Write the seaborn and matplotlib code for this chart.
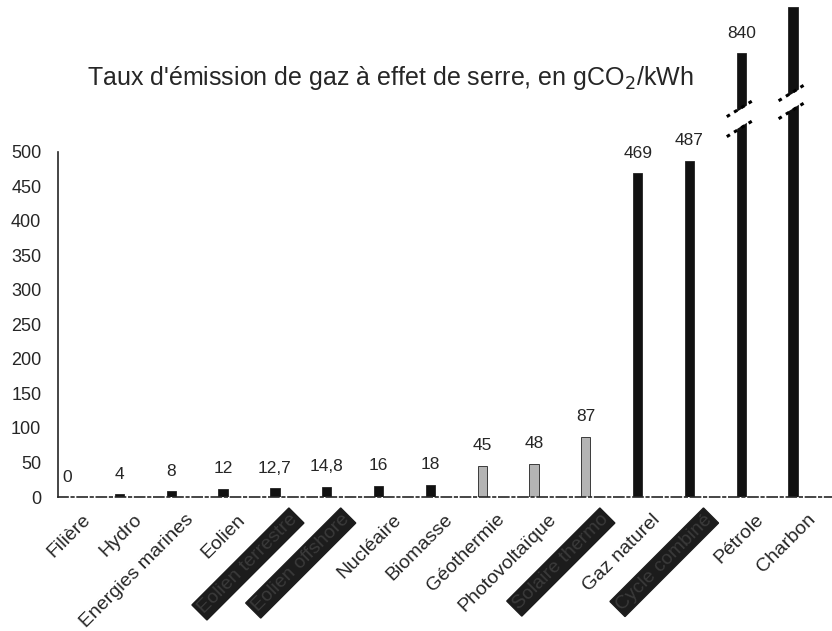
import matplotlib
matplotlib.use('Agg')
import matplotlib.pyplot as plt
import matplotlib.transforms as mtransforms
import numpy as np
import pandas as pd
import seaborn as sns

CATEGORIES = ['Filière', 'Hydro', 'Energies marines', 'Eolien', 'Eolien terrestre',
              'Eolien offshore', 'Nucléaire', 'Biomasse', 'Géothermie', 'Photovoltaïque',
              'Solaire thermo', 'Gaz naturel', 'Cycle combiné', 'Pétrole', 'Charbon']
VALUES = [0, 4, 8, 12, 12.7, 14.8, 16, 18, 45, 48, 87, 469, 487, 840, 1001]
# labels that are blacked out on the scanned original
HIDDEN = ['Eolien terrestre', 'Eolien offshore', 'Solaire thermo', 'Cycle combiné']
BAR_COLORS = ['#111111'] * 8 + ['#b4b4b4'] * 3 + ['#111111'] * 4
Y_TICKS = list(range(0, 501, 50))
TITLE = "Taux d'émission de gaz à effet de serre, en gCO$_2$/kWh"

BREAK_AT = 500
SQUEEZE = 0.42
TOP = 720  # scaled units at the top edge of the figure


def fwd(v):
    v = np.asarray(v, dtype=float)
    return np.where(v <= BREAK_AT, v, BREAK_AT + (v - BREAK_AT) * SQUEEZE)


def inv(v):
    v = np.asarray(v, dtype=float)
    return np.where(v <= BREAK_AT, v, BREAK_AT + (v - BREAK_AT) / SQUEEZE)


def fmt(v):
    return str(int(v)) if float(v).is_integer() else str(v).replace('.', ',')


def draw_break(ax, xi, lo, hi):
    # two dotted slanted strokes with a white gap cut through the bar
    dx = 0.28
    half = 13.0
    for c in (lo, hi):
        xs = [xi - dx, xi + dx]
        ys = inv([c - half, c + half])
        ax.plot(xs, ys, color='black', lw=2.2, ls=(0, (1.2, 1.6)), zorder=5, clip_on=False)
    xs = [xi - dx, xi + dx, xi + dx, xi - dx]
    ys = inv([lo - half + 2, lo + half + 2, hi + half - 2, hi - half - 2])
    ax.fill(xs, ys, color='white', zorder=4, lw=0)


def plot_emissions():
    df = pd.DataFrame({'filiere': CATEGORIES, 'taux': VALUES})
    fig = plt.figure(figsize=(8.32, 6.31), dpi=100)
    ax = fig.add_axes([58 / 832, 134 / 631, (832 - 58) / 832, 497 / 631])

    sns.barplot(data=df, x='filiere', y='taux', hue='filiere', palette=BAR_COLORS,
                legend=False, width=0.18, edgecolor='#222222', linewidth=0.6, ax=ax)

    ax.set_yscale('function', functions=(fwd, inv))
    ax.set_ylim(0, float(inv(TOP)))
    ax.set_xlim(-0.185, 14.1)

    for i, v in enumerate(VALUES):
        if fwd(v) > TOP - 30:
            continue  # bar runs off the top of the page, its label is not visible
        ax.annotate(fmt(v), (i, v), xytext=(0, 9), textcoords='offset points',
                    ha='center', va='bottom', fontsize=12.5, annotation_clip=False)

    draw_break(ax, CATEGORIES.index('Pétrole'), 535, 564)
    draw_break(ax, CATEGORIES.index('Charbon'), 561, 587)

    # y axis only up to 500, x axis as a dashed baseline
    for s in ('top', 'right'):
        ax.spines[s].set_visible(False)
    ax.spines['left'].set_bounds(0, 500)
    ax.spines['left'].set_linewidth(1.2)
    ax.spines['bottom'].set_linestyle((0, (6, 2, 1.5, 2)))
    ax.spines['bottom'].set_linewidth(1.2)
    ax.set_yticks(Y_TICKS)
    ax.set_yticklabels([str(t) for t in Y_TICKS])
    ax.tick_params(axis='y', direction='out', length=4, labelsize=13, pad=8)
    ax.set_xticks(np.arange(len(CATEGORIES)) + 0.75, minor=True)
    ax.tick_params(axis='x', which='minor', length=4, direction='out')
    ax.tick_params(axis='x', which='major', length=0, pad=0, labelsize=14)
    ax.set_xticks(range(len(CATEGORIES)))
    ax.set_xticklabels(CATEGORIES, rotation=45, ha='right', rotation_mode='anchor')
    shift = mtransforms.ScaledTranslation(0.14, -0.14, fig.dpi_scale_trans)
    for lab in ax.get_xticklabels():
        lab.set_transform(lab.get_transform() + shift)
        if lab.get_text() in HIDDEN:
            lab.set_color('#3a3a3a')
            lab.set_bbox(dict(facecolor='#1c1c1c', edgecolor='#1c1c1c', pad=1.5))
    ax.set_xlabel('')
    ax.set_ylabel('')

    fig.text(390 / 832, 1 - 78 / 631, TITLE, ha='center', va='center', fontsize=18)
    fig.savefig('out.png', dpi=100)
    return fig


def main():
    sns.set_theme(style='white')
    plt.rcParams['font.family'] = ['Liberation Sans', 'DejaVu Sans']
    plot_emissions()


if __name__ == '__main__':
    main()
